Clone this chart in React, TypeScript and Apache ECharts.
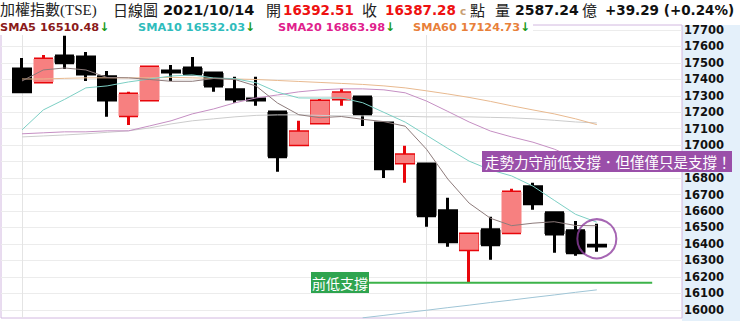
import React, { useEffect, useRef } from 'react';
import * as echarts from 'echarts';

// ---------- data ----------
const CATEGORIES = [
  '2021/09/02', '2021/09/03', '2021/09/06', '2021/09/07', '2021/09/08', '2021/09/09', '2021/09/10',
  '2021/09/13', '2021/09/14', '2021/09/15', '2021/09/16', '2021/09/17', '2021/09/22', '2021/09/23',
  '2021/09/24', '2021/09/27', '2021/09/28', '2021/09/29', '2021/09/30', '2021/10/01', '2021/10/04',
  '2021/10/05', '2021/10/06', '2021/10/07', '2021/10/08', '2021/10/12', '2021/10/13', '2021/10/14',
  '2021/10/15', '2021/10/18', '2021/10/19', '2021/10/20',
];

// [open, close, low, high]
const OHLC: number[][] = [
  [17463, 17324, 17318, 17530],
  [17384, 17524, 17380, 17548],
  [17542, 17500, 17463, 17664],
  [17536, 17433, 17390, 17566],
  [17415, 17275, 17172, 17451],
  [17178, 17311, 17123, 17324],
  [17275, 17475, 17270, 17478],
  [17451, 17445, 17390, 17487],
  [17469, 17433, 17427, 17536],
  [17439, 17360, 17324, 17445],
  [17336, 17281, 17257, 17415],
  [17281, 17275, 17239, 17415],
  [17202, 16929, 16838, 17205],
  [17002, 17081, 17000, 17148],
  [17135, 17269, 17133, 17281],
  [17281, 17318, 17239, 17342],
  [17293, 17190, 17117, 17295],
  [17135, 16856, 16801, 17137],
  [16892, 16941, 16771, 16996],
  [16886, 16571, 16504, 16888],
  [16601, 16413, 16383, 16680],
  [16364, 16461, 16164, 16463],
  [16486, 16395, 16304, 16565],
  [16468, 16716, 16466, 16735],
  [16747, 16644, 16607, 16771],
  [16589, 16461, 16346, 16591],
  [16480, 16346, 16328, 16540],
  [16392.51, 16387.28, 16352, 16522],
];

const SMA5 = [17390, 17457, 17469, 17457, 17411, 17409, 17399, 17388, 17388, 17405, 17399, 17359, 17256, 17185,
  17167, 17174, 17157, 17143, 17115, 16975, 16794, 16648, 16556, 16511, 16526, 16535, 16512, 16510.48];
const SMA10 = [17093, 17214, 17278, 17348, 17360, 17384, 17402, 17420, 17427, 17408, 17404, 17379, 17322, 17287,
  17286, 17287, 17258, 17199, 17140, 17060, 16980, 16903, 16850, 16813, 16751, 16665, 16580, 16532.03];
const SMA20 = [17069, 17075, 17081, 17081, 17087, 17087, 17117, 17148, 17190, 17220, 17257, 17287, 17305, 17324,
  17336, 17342, 17342, 17336, 17318, 17268, 17205, 17141, 17086, 17050, 17018, 16976, 16919, 16863.98];
const SMA60 = [17402, 17402, 17406, 17409, 17409, 17409, 17409, 17412, 17409, 17406, 17402, 17399, 17393, 17387,
  17381, 17375, 17369, 17360, 17348, 17330, 17311, 17290, 17266, 17239, 17214, 17190, 17160, 17124.73];
const MA_GRAY = [17050, 17056, 17062, 17069, 17078, 17087, 17105, 17129, 17148, 17160, 17172, 17181, 17184, 17184,
  17181, 17178, 17178, 17175, 17175, 17172, 17172, 17172, 17169, 17166, 17160, 17151, 17141, 17135];
const MA_BLUE = [null, null, null, null, null, null, null, null, null, null, null, null, null, null, null, null,
  15951, 15966, 15982, 15997, 16013, 16028, 16044, 16059, 16075, 16090, 16106, 16121];

const Y_MIN = 15950;
const Y_MAX = 17730;
const Y_STEP = 50;
const Y_LABEL_STEP = 100;
const Y_LABEL_HIDDEN = [16900]; // covered by the note box in the reference

const SUPPORT_VALUE = 16164;
const SUPPORT_SPAN = [16.3, 29.6];
const CIRCLE_POINT = [27, 16431];

const HEADER_TITLE = ['加權指數(TSE)', '日線圖'];
const HEADER_DATE = '2021/10/14';
const HEADER_OPEN = '16392.51';
const HEADER_CLOSE = '16387.28';
const HEADER_VOLUME = '2587.24';
const HEADER_CHANGE = '+39.29 (+0.24%)';
const LEGEND_NAMES = ['SMA5', 'SMA10', 'SMA20', 'SMA60'];
const LEGEND_VALUES = ['16510.48', '16532.03', '16863.98', '17124.73'];
const NOTE_TEXT = '走勢力守前低支撐．但僅僅只是支撐！';
const SUPPORT_TEXT = '前低支撐';

// ---------- styles ----------
const PINK = '#f78080';
const RED = '#e8060b';
const CJK = '"Noto Sans CJK TC", sans-serif';
const BOLD = (s: number) => `bold ${s}px "DejaVu Sans", sans-serif`;

function txt(text: string, x: number, y: number, font: string, fill: string) {
  return { type: 'text', x, y, z: 51, silent: true, style: { text, font, fill, verticalAlign: 'middle' } };
}

export default function App() {
  const ref = useRef<HTMLDivElement>(null);
  useEffect(() => {
    document.body.style.margin = '0';
    const chart = echarts.init(ref.current!, undefined, { renderer: 'svg' });
    const legendColors = ['#8b1a1a', '#2fbcbc', '#e0208c', '#e8803a'];
    const legendX = [0, 138, 278, 413];
    const r1 = 9.5;
    const r2 = 27;
    const graphic: any[] = [
      { type: 'rect', z: -1, silent: true, shape: { x: 682, y: 25, width: 58, height: 296 }, style: { fill: '#e4f0fa' } },
      { type: 'rect', z: 50, silent: true, shape: { x: 0, y: 19, width: 533, height: 16 }, style: { fill: '#fff' } },
      txt(HEADER_TITLE[0], 0, r1, `15px "Liberation Serif", ${CJK}`, '#222'),
      txt(HEADER_TITLE[1], 113, r1, `15px ${CJK}`, '#222'),
      txt(HEADER_DATE, 163, r1, BOLD(14.5), '#111'),
      txt('開', 266, r1, `15px ${CJK}`, '#222'),
      txt(HEADER_OPEN, 283, r1, BOLD(13.5), '#ee1111'),
      txt('收', 362, r1, `15px ${CJK}`, '#222'),
      txt(HEADER_CLOSE, 385, r1, BOLD(13.5), '#ee1111'),
      txt('c', 460, r1 + 1, BOLD(10.5), '#c9a074'),
      txt('點', 470, r1, `15px ${CJK}`, '#222'),
      txt('量', 495, r1, `15px ${CJK}`, '#222'),
      txt(HEADER_VOLUME, 515, r1, BOLD(14), '#111'),
      txt('億', 582, r1, `15px ${CJK}`, '#222'),
      txt(HEADER_CHANGE, 605, r1, BOLD(13.5), '#111'),
    ];
    LEGEND_NAMES.forEach((n, i) => {
      graphic.push({
        type: 'text', x: legendX[i], y: r2, z: 51, silent: true,
        style: {
          text: `{n|${n} ${LEGEND_VALUES[i]}}{a|↓}`,
          verticalAlign: 'middle',
          rich: {
            n: { fill: legendColors[i], font: BOLD(11.3) },
            a: { fill: '#1a9a1a', font: BOLD(12) },
          },
        },
      });
    });
    graphic.push(
      { type: 'rect', z: 100, silent: true, shape: { x: 482, y: 151, width: 250, height: 21 }, style: { fill: '#9a4fa9' } },
      { type: 'text', z: 101, silent: true, x: 485, y: 161.5, style: { text: NOTE_TEXT, font: `14.5px ${CJK}`, fill: '#fff', verticalAlign: 'middle' } },
      { type: 'rect', z: 100, silent: true, shape: { x: 311, y: 272, width: 58, height: 21 }, style: { fill: '#2ea44f' } },
      { type: 'text', z: 101, silent: true, x: 312, y: 283, style: { text: SUPPORT_TEXT, font: `14px ${CJK}`, fill: '#fff', verticalAlign: 'middle' } },
    );

    const line = (name: string, data: any[], color: string) => ({
      name, type: 'line', xAxisIndex: 1, yAxisIndex: 1, data, symbol: 'none', silent: true,
      lineStyle: { width: 1, color }, z: 3,
    });

    const option: any = {
      animation: false,
      grid: [
        { left: 1, right: 58, top: 25, bottom: 3, show: true, borderColor: '#d2b8e0', borderWidth: 1, backgroundColor: '#fff' },
        { left: 22, right: 58, top: 25, bottom: 3 },
      ],
      xAxis: [
        { type: 'value', gridIndex: 0, show: false, min: 0, max: 1 },
        {
          type: 'category', gridIndex: 1, data: CATEGORIES, boundaryGap: false,
          axisLine: { show: false }, axisTick: { show: false }, axisLabel: { show: false },
          splitLine: { show: true, interval: (i: number) => i === 0 || i === 19, lineStyle: { color: '#e4e4e4' } },
        },
        { type: 'value', gridIndex: 1, show: false, min: 0, max: CATEGORIES.length - 1 },
      ],
      yAxis: [
        {
          type: 'value', gridIndex: 0, position: 'right', min: Y_MIN, max: Y_MAX, interval: Y_STEP,
          axisLine: { show: false }, axisTick: { show: false },
          axisLabel: {
            margin: 2, color: '#111', fontWeight: 'bold', fontSize: 11.5, fontFamily: 'DejaVu Sans',
            formatter: (v: number) => (v % Y_LABEL_STEP === 0 && !Y_LABEL_HIDDEN.includes(v) ? String(v) : ''),
          },
          splitLine: { show: true, lineStyle: { color: ['rgba(0,0,0,0)', '#ececec'], width: 1 } },
        },
        { type: 'value', gridIndex: 1, min: Y_MIN, max: Y_MAX, show: false },
      ],
      graphic,
      series: [
        {
          type: 'candlestick', xAxisIndex: 1, yAxisIndex: 1, data: OHLC, barWidth: 17, clip: false, silent: true,
          itemStyle: { color: PINK, color0: '#000', borderColor: RED, borderColor0: '#000', borderWidth: 3 },
        },
        {
          type: 'candlestick', xAxisIndex: 1, yAxisIndex: 1, data: OHLC, barWidth: 20, clip: false, silent: true,
          itemStyle: { color: PINK, color0: '#000', borderColor: PINK, borderColor0: '#000', borderWidth: 0 },
        },
        line('MA_BLUE', MA_BLUE, '#9fc5d6'),
        line('MA_GRAY', MA_GRAY, '#cccccc'),
        line('SMA60', SMA60, '#e8b98f'),
        line('SMA20', SMA20, '#c58fc3'),
        line('SMA10', SMA10, '#7ccfc4'),
        line('SMA5', SMA5, '#8d7b7b'),
        {
          type: 'line', xAxisIndex: 2, yAxisIndex: 1, silent: true, symbol: 'none', z: 4,
          data: [[SUPPORT_SPAN[0], SUPPORT_VALUE], [SUPPORT_SPAN[1], SUPPORT_VALUE]],
          lineStyle: { color: '#3cb34a', width: 2 },
        },
        {
          type: 'scatter', xAxisIndex: 1, yAxisIndex: 1, silent: true, z: 5,
          data: [CIRCLE_POINT], symbol: 'circle', symbolSize: 39,
          itemStyle: { color: 'rgba(0,0,0,0)', borderColor: '#9040a0', borderWidth: 2 },
        },
      ],
    };
    chart.setOption(option);
    return () => chart.dispose();
  }, []);
  return <div ref={ref} style={{ position: 'absolute', left: 0, top: 0, width: 740, height: 321 }} />;
}
